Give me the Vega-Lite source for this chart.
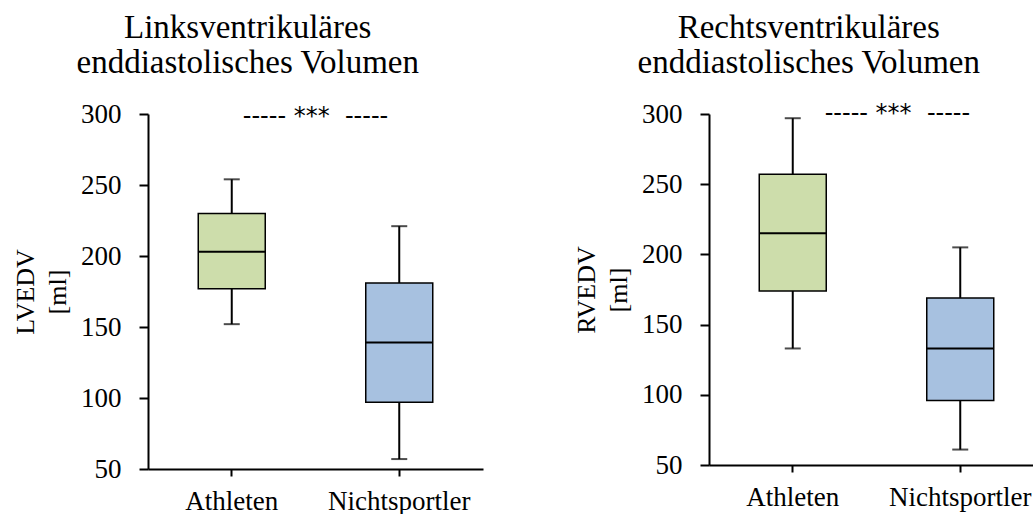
{
  "$schema": "https://vega.github.io/schema/vega-lite/v6.json",
  "background": "white",
  "padding": {"left": 12, "top": 12, "right": 0, "bottom": 0},
  "spacing": 90,
  "datasets": {
    "boxes": [
      {"panel": "LV", "group": "Athleten", "min": 152, "q1": 177, "median": 203, "q3": 230, "max": 254},
      {"panel": "LV", "group": "Nichtsportler", "min": 57, "q1": 97, "median": 139, "q3": 181, "max": 221},
      {"panel": "RV", "group": "Athleten", "min": 133, "q1": 174, "median": 215, "q3": 257, "max": 297},
      {"panel": "RV", "group": "Nichtsportler", "min": 61, "q1": 96, "median": 133, "q3": 169, "max": 205}
    ],
    "notes": [
      {"panel": "LV", "group": "Athleten", "y": 298, "label": "----- ***\u00a0 -----"},
      {"panel": "RV", "group": "Athleten", "y": 300, "label": "----- ***\u00a0 -----"}
    ]
  },
  "hconcat": [
    {
      "width": 335,
      "height": 355,
      "title": {"text": ["Linksventrikuläres", "enddiastolisches Volumen"]},
      "layer": [
        {
          "data": {"name": "boxes"},
          "transform": [{"filter": "datum.panel === 'LV'"}],
          "mark": {"type": "rule", "color": "black", "strokeWidth": 2},
          "encoding": {
            "x": {"field": "group", "type": "nominal"},
            "y": {"field": "min", "type": "quantitative"},
            "y2": {"field": "q1"}
          }
        },
        {
          "data": {"name": "boxes"},
          "transform": [{"filter": "datum.panel === 'LV'"}],
          "mark": {"type": "rule", "color": "black", "strokeWidth": 2},
          "encoding": {
            "x": {"field": "group", "type": "nominal"},
            "y": {"field": "q3", "type": "quantitative"},
            "y2": {"field": "max"}
          }
        },
        {
          "data": {"name": "boxes"},
          "transform": [{"filter": "datum.panel === 'LV'"}],
          "mark": {"type": "tick", "color": "black", "size": 16, "thickness": 2},
          "encoding": {
            "x": {"field": "group", "type": "nominal"},
            "y": {"field": "min", "type": "quantitative"}
          }
        },
        {
          "data": {"name": "boxes"},
          "transform": [{"filter": "datum.panel === 'LV'"}],
          "mark": {"type": "tick", "color": "black", "size": 16, "thickness": 2},
          "encoding": {
            "x": {"field": "group", "type": "nominal"},
            "y": {"field": "max", "type": "quantitative"}
          }
        },
        {
          "data": {"name": "boxes"},
          "transform": [{"filter": "datum.panel === 'LV'"}],
          "mark": {"type": "bar", "width": {"band": 0.4}, "stroke": "black", "strokeWidth": 1.5, "opacity": 1},
          "encoding": {
            "x": {"field": "group", "type": "nominal"},
            "y": {"field": "q1", "type": "quantitative"},
            "y2": {"field": "q3"},
            "color": {"field": "group", "type": "nominal", "scale": {"domain": ["Athleten", "Nichtsportler"], "range": ["#cdddab", "#a7c1e0"]}, "legend": null}
          }
        },
        {
          "data": {"name": "boxes"},
          "transform": [{"filter": "datum.panel === 'LV'"}],
          "mark": {"type": "tick", "color": "black", "size": 67, "thickness": 2, "opacity": 1},
          "encoding": {
            "x": {"field": "group", "type": "nominal"},
            "y": {"field": "median", "type": "quantitative"}
          }
        },
        {
          "data": {"name": "notes"},
          "transform": [{"filter": "datum.panel === 'LV'"}],
          "mark": {"type": "text", "font": "DejaVu Sans", "fontSize": 24, "color": "black", "align": "center", "baseline": "middle"},
          "encoding": {
            "x": {"field": "group", "type": "nominal", "bandPosition": 1},
            "y": {"field": "y", "type": "quantitative"},
            "text": {"field": "label"}
          }
        }
      ],
      "encoding": {
        "x": {"field": "group", "type": "nominal", "scale": {"domain": ["Athleten", "Nichtsportler"], "paddingInner": 0, "paddingOuter": 0},
              "axis": {"title": null, "labelAngle": 0, "tickSize": 7, "labelPadding": 12, "labelFont": "Liberation Serif", "labelFontSize": 27, "labelColor": "black"}},
        "y": {"type": "quantitative", "scale": {"domain": [50, 300], "nice": false, "zero": false},
              "axis": {"title": ["LVEDV", "[ml]"], "values": [50, 100, 150, 200, 250, 300], "tickSize": 9, "labelPadding": 18, "titlePadding": 10, "titleLineHeight": 32,
                       "labelFont": "Liberation Serif", "labelFontSize": 27, "labelColor": "black", "titleFont": "Liberation Serif", "titleFontSize": 26, "titleFontWeight": "normal", "titleColor": "black"}}
      }
    },
    {
      "width": 335,
      "height": 351,
      "title": {"text": ["Rechtsventrikuläres", "enddiastolisches Volumen"]},
      "layer": [
        {
          "data": {"name": "boxes"},
          "transform": [{"filter": "datum.panel === 'RV'"}],
          "mark": {"type": "rule", "color": "black", "strokeWidth": 2},
          "encoding": {
            "x": {"field": "group", "type": "nominal"},
            "y": {"field": "min", "type": "quantitative"},
            "y2": {"field": "q1"}
          }
        },
        {
          "data": {"name": "boxes"},
          "transform": [{"filter": "datum.panel === 'RV'"}],
          "mark": {"type": "rule", "color": "black", "strokeWidth": 2},
          "encoding": {
            "x": {"field": "group", "type": "nominal"},
            "y": {"field": "q3", "type": "quantitative"},
            "y2": {"field": "max"}
          }
        },
        {
          "data": {"name": "boxes"},
          "transform": [{"filter": "datum.panel === 'RV'"}],
          "mark": {"type": "tick", "color": "black", "size": 16, "thickness": 2},
          "encoding": {
            "x": {"field": "group", "type": "nominal"},
            "y": {"field": "min", "type": "quantitative"}
          }
        },
        {
          "data": {"name": "boxes"},
          "transform": [{"filter": "datum.panel === 'RV'"}],
          "mark": {"type": "tick", "color": "black", "size": 16, "thickness": 2},
          "encoding": {
            "x": {"field": "group", "type": "nominal"},
            "y": {"field": "max", "type": "quantitative"}
          }
        },
        {
          "data": {"name": "boxes"},
          "transform": [{"filter": "datum.panel === 'RV'"}],
          "mark": {"type": "bar", "width": {"band": 0.4}, "stroke": "black", "strokeWidth": 1.5, "opacity": 1},
          "encoding": {
            "x": {"field": "group", "type": "nominal"},
            "y": {"field": "q1", "type": "quantitative"},
            "y2": {"field": "q3"},
            "color": {"field": "group", "type": "nominal", "scale": {"domain": ["Athleten", "Nichtsportler"], "range": ["#cdddab", "#a7c1e0"]}, "legend": null}
          }
        },
        {
          "data": {"name": "boxes"},
          "transform": [{"filter": "datum.panel === 'RV'"}],
          "mark": {"type": "tick", "color": "black", "size": 67, "thickness": 2, "opacity": 1},
          "encoding": {
            "x": {"field": "group", "type": "nominal"},
            "y": {"field": "median", "type": "quantitative"}
          }
        },
        {
          "data": {"name": "notes"},
          "transform": [{"filter": "datum.panel === 'RV'"}],
          "mark": {"type": "text", "font": "DejaVu Sans", "fontSize": 24, "color": "black", "align": "center", "baseline": "middle"},
          "encoding": {
            "x": {"field": "group", "type": "nominal", "bandPosition": 1.125},
            "y": {"field": "y", "type": "quantitative"},
            "text": {"field": "label"}
          }
        }
      ],
      "encoding": {
        "x": {"field": "group", "type": "nominal", "scale": {"domain": ["Athleten", "Nichtsportler"], "paddingInner": 0, "paddingOuter": 0},
              "axis": {"title": null, "labelAngle": 0, "tickSize": 7, "labelPadding": 12, "labelFont": "Liberation Serif", "labelFontSize": 27, "labelColor": "black"}},
        "y": {"type": "quantitative", "scale": {"domain": [50, 300], "nice": false, "zero": false},
              "axis": {"title": ["RVEDV", "[ml]"], "values": [50, 100, 150, 200, 250, 300], "tickSize": 9, "labelPadding": 18, "titlePadding": 10, "titleLineHeight": 32,
                       "labelFont": "Liberation Serif", "labelFontSize": 27, "labelColor": "black", "titleFont": "Liberation Serif", "titleFontSize": 26, "titleFontWeight": "normal", "titleColor": "black"}}
      }
    }
  ],
  "config": {
    "view": {"stroke": null},
    "font": "Liberation Serif",
    "title": {"font": "Liberation Serif", "fontSize": 33, "fontWeight": "normal", "color": "black", "lineHeight": 35, "anchor": "middle", "frame": "bounds", "offset": 20},
    "axis": {
      "domainColor": "black",
      "domainWidth": 2,
      "tickColor": "black",
      "tickWidth": 2,
      "grid": false,
      "labelFont": "Liberation Serif",
      "titleFont": "Liberation Serif"
    }
  }
}
